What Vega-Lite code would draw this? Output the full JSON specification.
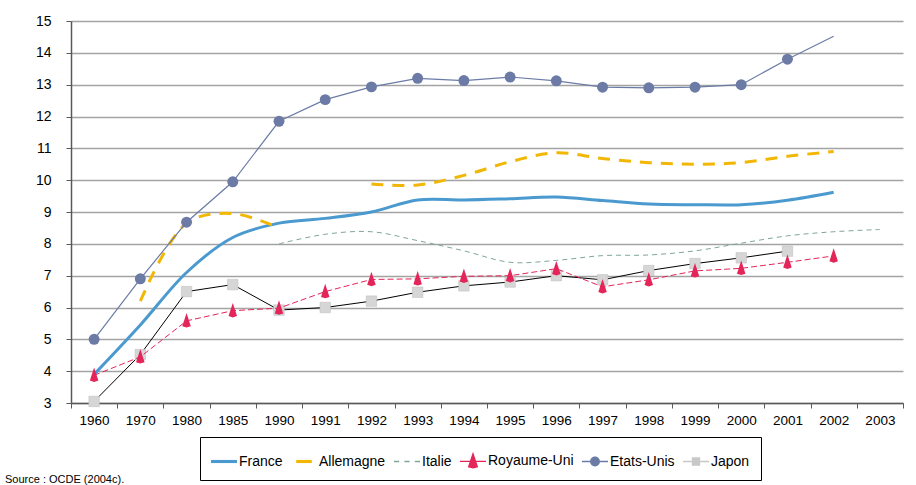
{
  "$schema": "https://vega.github.io/schema/vega-lite/v6.json",
  "width": 832,
  "height": 382,
  "autosize": {"type": "none"},
  "padding": {"left": 71, "top": 21, "right": 13, "bottom": 82},
  "background": "white",
  "title": {
    "text": "Source : OCDE (2004c).",
    "orient": "bottom",
    "anchor": "start",
    "frame": "group",
    "dx": -66,
    "offset": -7,
    "fontSize": 11,
    "fontWeight": "normal",
    "font": "Liberation Sans",
    "color": "#000"
  },
  "data": {
    "values": [
      {"year": "1960", "country": "France", "value": 3.9},
      {"year": "1970", "country": "France", "value": 5.45},
      {"year": "1980", "country": "France", "value": 7.1},
      {"year": "1985", "country": "France", "value": 8.2},
      {"year": "1990", "country": "France", "value": 8.65},
      {"year": "1991", "country": "France", "value": 8.8},
      {"year": "1992", "country": "France", "value": 9.0},
      {"year": "1993", "country": "France", "value": 9.38},
      {"year": "1994", "country": "France", "value": 9.38},
      {"year": "1995", "country": "France", "value": 9.42},
      {"year": "1996", "country": "France", "value": 9.47},
      {"year": "1997", "country": "France", "value": 9.36},
      {"year": "1998", "country": "France", "value": 9.25},
      {"year": "1999", "country": "France", "value": 9.23},
      {"year": "2000", "country": "France", "value": 9.23},
      {"year": "2001", "country": "France", "value": 9.37},
      {"year": "2002", "country": "France", "value": 9.62},
      {"year": "1970", "country": "Allemagne", "value": 6.2},
      {"year": "1980", "country": "Allemagne", "value": 8.65},
      {"year": "1985", "country": "Allemagne", "value": 8.95},
      {"year": "1990", "country": "Allemagne", "value": 8.5},
      {"year": "1991", "country": "Allemagne", "value": null},
      {"year": "1992", "country": "Allemagne", "value": 9.88},
      {"year": "1993", "country": "Allemagne", "value": 9.85},
      {"year": "1994", "country": "Allemagne", "value": 10.15},
      {"year": "1995", "country": "Allemagne", "value": 10.58},
      {"year": "1996", "country": "Allemagne", "value": 10.86},
      {"year": "1997", "country": "Allemagne", "value": 10.68},
      {"year": "1998", "country": "Allemagne", "value": 10.55},
      {"year": "1999", "country": "Allemagne", "value": 10.5},
      {"year": "2000", "country": "Allemagne", "value": 10.55},
      {"year": "2001", "country": "Allemagne", "value": 10.75},
      {"year": "2002", "country": "Allemagne", "value": 10.9},
      {"year": "1990", "country": "Italie", "value": 8.0},
      {"year": "1991", "country": "Italie", "value": 8.3},
      {"year": "1992", "country": "Italie", "value": 8.38},
      {"year": "1993", "country": "Italie", "value": 8.1},
      {"year": "1994", "country": "Italie", "value": 7.78},
      {"year": "1995", "country": "Italie", "value": 7.42},
      {"year": "1996", "country": "Italie", "value": 7.48},
      {"year": "1997", "country": "Italie", "value": 7.63},
      {"year": "1998", "country": "Italie", "value": 7.65},
      {"year": "1999", "country": "Italie", "value": 7.78},
      {"year": "2000", "country": "Italie", "value": 8.02},
      {"year": "2001", "country": "Italie", "value": 8.25},
      {"year": "2002", "country": "Italie", "value": 8.38},
      {"year": "2003", "country": "Italie", "value": 8.45},
      {"year": "1960", "country": "Royaume-Uni", "value": 3.87},
      {"year": "1970", "country": "Royaume-Uni", "value": 4.45},
      {"year": "1980", "country": "Royaume-Uni", "value": 5.58},
      {"year": "1985", "country": "Royaume-Uni", "value": 5.9},
      {"year": "1990", "country": "Royaume-Uni", "value": 5.98},
      {"year": "1991", "country": "Royaume-Uni", "value": 6.5},
      {"year": "1992", "country": "Royaume-Uni", "value": 6.88},
      {"year": "1993", "country": "Royaume-Uni", "value": 6.9},
      {"year": "1994", "country": "Royaume-Uni", "value": 6.98},
      {"year": "1995", "country": "Royaume-Uni", "value": 7.0},
      {"year": "1996", "country": "Royaume-Uni", "value": 7.22},
      {"year": "1997", "country": "Royaume-Uni", "value": 6.65},
      {"year": "1998", "country": "Royaume-Uni", "value": 6.87},
      {"year": "1999", "country": "Royaume-Uni", "value": 7.15},
      {"year": "2000", "country": "Royaume-Uni", "value": 7.23},
      {"year": "2001", "country": "Royaume-Uni", "value": 7.42},
      {"year": "2002", "country": "Royaume-Uni", "value": 7.62},
      {"year": "1960", "country": "Etats-Unis", "value": 5.0},
      {"year": "1970", "country": "Etats-Unis", "value": 6.9},
      {"year": "1980", "country": "Etats-Unis", "value": 8.68},
      {"year": "1985", "country": "Etats-Unis", "value": 9.95},
      {"year": "1990", "country": "Etats-Unis", "value": 11.85},
      {"year": "1991", "country": "Etats-Unis", "value": 12.53},
      {"year": "1992", "country": "Etats-Unis", "value": 12.93},
      {"year": "1993", "country": "Etats-Unis", "value": 13.2},
      {"year": "1994", "country": "Etats-Unis", "value": 13.13},
      {"year": "1995", "country": "Etats-Unis", "value": 13.24},
      {"year": "1996", "country": "Etats-Unis", "value": 13.12},
      {"year": "1997", "country": "Etats-Unis", "value": 12.92},
      {"year": "1998", "country": "Etats-Unis", "value": 12.9},
      {"year": "1999", "country": "Etats-Unis", "value": 12.92},
      {"year": "2000", "country": "Etats-Unis", "value": 13.0},
      {"year": "2001", "country": "Etats-Unis", "value": 13.8},
      {"year": "2002", "country": "Etats-Unis", "value": 14.52},
      {"year": "1960", "country": "Japon", "value": 3.05},
      {"year": "1970", "country": "Japon", "value": 4.52},
      {"year": "1980", "country": "Japon", "value": 6.5},
      {"year": "1985", "country": "Japon", "value": 6.72},
      {"year": "1990", "country": "Japon", "value": 5.92},
      {"year": "1991", "country": "Japon", "value": 6.0},
      {"year": "1992", "country": "Japon", "value": 6.2},
      {"year": "1993", "country": "Japon", "value": 6.48},
      {"year": "1994", "country": "Japon", "value": 6.68},
      {"year": "1995", "country": "Japon", "value": 6.8},
      {"year": "1996", "country": "Japon", "value": 7.0},
      {"year": "1997", "country": "Japon", "value": 6.87},
      {"year": "1998", "country": "Japon", "value": 7.16},
      {"year": "1999", "country": "Japon", "value": 7.38},
      {"year": "2000", "country": "Japon", "value": 7.56},
      {"year": "2001", "country": "Japon", "value": 7.77}
    ]
  },
  "encoding": {
    "x": {
      "field": "year",
      "type": "ordinal",
      "bandPosition": 0.5,
      "scale": {
        "type": "band",
        "paddingInner": 0,
        "paddingOuter": 0,
        "domain": ["1960","1970","1980","1985","1990","1991","1992","1993","1994","1995","1996","1997","1998","1999","2000","2001","2002","2003"]
      },
      "axis": {
        "title": null,
        "labelAngle": 0,
        "tickBand": "extent",
        "grid": false,
        "domainColor": "#595959",
        "domainWidth": 1.5,
        "tickColor": "#595959",
        "tickSize": 5,
        "labelPadding": 5,
        "labelFontSize": 13.5,
        "labelColor": "#000",
        "labelFont": "Liberation Sans"
      }
    },
    "y": {
      "field": "value",
      "type": "quantitative",
      "scale": {"domain": [3, 15], "nice": false, "zero": false},
      "axis": {
        "title": null,
        "values": [3,4,5,6,7,8,9,10,11,12,13,14,15],
        "grid": true,
        "gridColor": "#a3a3a3",
        "gridWidth": 1.3,
        "domainColor": "#595959",
        "domainWidth": 1.5,
        "tickColor": "#595959",
        "tickSize": 5,
        "labelPadding": 15,
        "labelFontSize": 14,
        "labelColor": "#000",
        "labelFont": "Liberation Sans"
      }
    }
  },
  "layer": [
    {
      "transform": [{"filter": "datum.country === 'Italie'"}],
      "mark": {"type": "line", "color": "#7fa696", "strokeWidth": 1, "strokeDash": [5, 4], "interpolate": "catmull-rom"}
    },
    {
      "transform": [{"filter": "datum.country === 'France'"}],
      "mark": {"type": "line", "color": "#4a9ad0", "strokeWidth": 3, "interpolate": "catmull-rom"}
    },
    {
      "transform": [{"filter": "datum.country === 'Allemagne'"}],
      "mark": {"type": "line", "color": "#f2b705", "strokeWidth": 3, "strokeDash": [12, 9], "interpolate": "catmull-rom"}
    },
    {
      "transform": [{"filter": "datum.country === 'Japon'"}],
      "mark": {"type": "line", "color": "#000000", "strokeWidth": 1}
    },
    {
      "transform": [{"filter": "datum.country === 'Japon'"}],
      "mark": {"type": "point", "shape": "square", "filled": true, "color": "#d6d6d6", "opacity": 1, "size": 110, "stroke": "#bdbdbd", "strokeWidth": 0.5}
    },
    {
      "transform": [{"filter": "datum.country === 'Royaume-Uni'"}],
      "mark": {"type": "line", "color": "#e3255a", "strokeWidth": 1, "strokeDash": [6, 3]}
    },
    {
      "transform": [{"filter": "datum.country === 'Royaume-Uni'"}],
      "mark": {"type": "point", "shape": "M0,-1.1L0.6,0.75L0,0.95L-0.6,0.75Z", "filled": true, "color": "#e3255a", "opacity": 1, "size": 200}
    },
    {
      "transform": [{"filter": "datum.country === 'Etats-Unis'"}],
      "mark": {"type": "line", "color": "#6b7ba6", "strokeWidth": 1.2}
    },
    {
      "transform": [{"filter": "datum.country === 'Etats-Unis' && datum.year !== '2002'"}],
      "mark": {"type": "point", "shape": "circle", "filled": true, "color": "#6b7ba6", "opacity": 1, "size": 120}
    },
    {
      "transform": [{"filter": "datum.value > 100"}],
      "mark": {"type": "point", "filled": true, "opacity": 1},
      "encoding": {
        "color": {
          "field": "country",
          "type": "nominal",
          "scale": {
            "domain": ["France", "Allemagne", "Italie", "Royaume-Uni", "Etats-Unis", "Japon"],
            "range": ["#4a9ad0", "#f2b705", "#7fa696", "#e3255a", "#6b7ba6", "#c8c8c8"]
          },
          "legend": {
            "title": null,
            "orient": "none",
            "legendX": 129,
            "legendY": 416,
            "direction": "horizontal",
            "columns": 6,
            "columnPadding": 8,
            "padding": 11,
            "strokeColor": "#000",
            "symbolSize": 676,
            "symbolStrokeWidth": 0,
            "symbolOpacity": 1,
            "labelFontSize": 14,
            "labelFont": "Liberation Sans",
            "labelColor": "#000",
            "labelOffset": 2,
            "cornerRadius": 0,
            "fillColor": "white"
          }
        },
        "shape": {
          "field": "country",
          "type": "nominal",
          "scale": {
            "domain": ["France", "Allemagne", "Italie", "Royaume-Uni", "Etats-Unis", "Japon"],
            "range": [
              "M-1,-0.12H1V0.12H-1Z",
              "M-0.6,-0.12H0.6V0.12H-0.6Z",
              "M-1,-0.05H-0.6V0.05H-1Z M-0.2,-0.05H0.2V0.05H-0.2Z M0.6,-0.05H1V0.05H0.6Z",
              "M-1,-0.05H1V0.05H-1Z M0,-0.75L0.4,0.45L0,0.55L-0.4,0.45Z",
              "M-1,-0.05H1V0.05H-1Z M-0.38,0A0.38,0.38 0 1,1 0.38,0A0.38,0.38 0 1,1 -0.38,0Z",
              "M-1,-0.05H1V0.05H-1Z M-0.32,-0.32H0.32V0.32H-0.32Z"
            ]
          },
          "legend": null
        }
      }
    }
  ],
  "config": {
    "view": {"stroke": null},
    "font": "Liberation Sans"
  }
}
